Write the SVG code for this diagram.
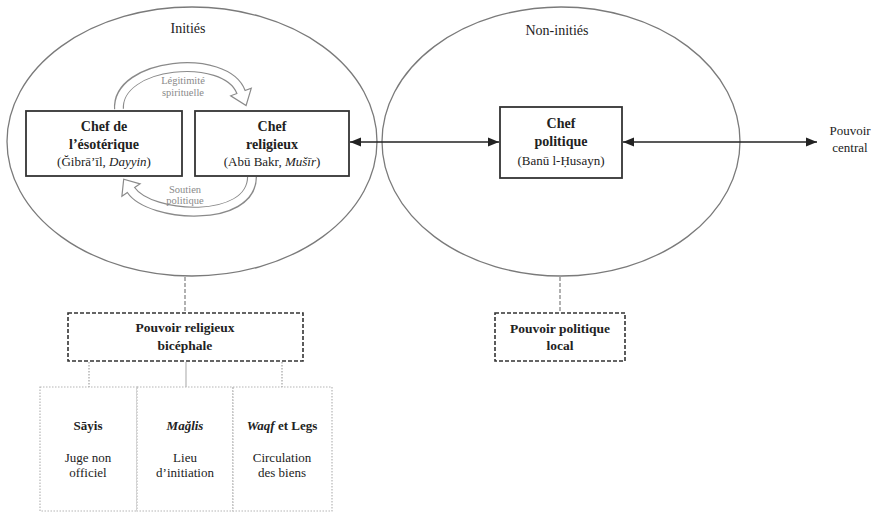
<svg xmlns="http://www.w3.org/2000/svg" width="876" height="513" viewBox="0 0 876 513">
<style>
text{font-family:"Liberation Serif","DejaVu Serif",serif;fill:#222;text-anchor:middle}
.t{font-size:14px;font-weight:bold}
.s{font-size:13px}
.p{font-size:13.5px;font-weight:bold}
.g{font-size:10.5px;fill:#8a8a8a}
.ell{fill:none;stroke:#7a7a7a;stroke-width:1.3}
.box{fill:#fff;stroke:#333;stroke-width:1.8}
.dbox{fill:#fff;stroke:#333;stroke-width:1.6;stroke-dasharray:4 2}
.obox{fill:#fff;stroke:#b5b5b5;stroke-width:1.2;stroke-dasharray:1.5 1.5}
.arr{stroke:#222;stroke-width:1.4;fill:none;marker-start:url(#ah);marker-end:url(#ah)}
.dash{stroke:#888;stroke-width:1.3;stroke-dasharray:4 2;fill:none}
.dot{stroke:#aaa;stroke-width:1.3;stroke-dasharray:1.5 1.5;fill:none}
.bo{fill:none;stroke:#8a8a8a;stroke-width:10}
.bi{fill:none;stroke:#fff;stroke-width:7.6}
.bh{fill:#fff;stroke:#8a8a8a;stroke-width:1.2;stroke-linejoin:miter}
</style>
<defs>
<marker id="ah" markerUnits="userSpaceOnUse" markerWidth="12" markerHeight="10" refX="11" refY="5" orient="auto-start-reverse">
<path d="M0,0.5 L11,5 L0,9.5 Z" fill="#222"/>
</marker>
</defs>
<g id="initiés">
<ellipse class="ell" cx="192" cy="141.5" rx="185" ry="134.5"/>
<text class="s" x="188" y="33" style="font-size:14px">Initiés</text>
</g>
<g id="non-initiés">
<ellipse class="ell" cx="561" cy="141.5" rx="179" ry="134.5"/>
<text class="s" x="557" y="35" style="font-size:14px">Non-initiés</text>
</g>
<g id="connectors">
<path class="arr" d="M350,142 H499"/>
<path class="arr" d="M623,142 H817"/>
<path class="dash" d="M185,277 V313"/>
<path class="dash" d="M560,277 V313"/>
<path class="dot" d="M89,362 V387"/>
<path class="dot" d="M186,362 V387" style="stroke-dasharray:none;stroke:#bbb"/>
<path class="dot" d="M282,362 V387"/>
<path class="bo" d="M119,109 C116,62 226,52 241,92"/>
<polygon class="bh" points="251.3,88.2 246.1,105.5 230.7,95.8"/>
<path class="bi" d="M119,110 C116,62 226,52 241,92 L241.7,93.9"/>
<path class="bo" d="M252,177 C252,224 150,218 131,190"/>
<polygon class="bh" points="140.1,183.8 123.7,179.2 121.9,196.2"/>
<path class="bi" d="M252,176 C252,224 150,218 131,190 L129.9,188.3"/>
<text class="g" x="183" y="84">Légitimité</text>
<text class="g" x="183" y="95.5">spirituelle</text>
<text class="g" x="185" y="192.5">Soutien</text>
<text class="g" x="185" y="204">politique</text>
</g>
<g id="chef-esoterique">
<rect class="box" x="26" y="111" width="156" height="65"/>
<text class="t" x="104" y="131">Chef de</text>
<text class="t" x="104" y="149">l’ésotérique</text>
<text class="s" x="104" y="166">(Ğibrā’īl, <tspan font-style="italic">Dayyin</tspan>)</text>
</g>
<g id="chef-religieux">
<rect class="box" x="195" y="111" width="154" height="65"/>
<text class="t" x="272" y="131">Chef</text>
<text class="t" x="272" y="149">religieux</text>
<text class="s" x="272" y="166">(Abū Bakr, <tspan font-style="italic">Mušīr</tspan>)</text>
</g>
<g id="chef-politique">
<rect class="box" x="500" y="107" width="122" height="71"/>
<text class="t" x="561" y="128">Chef</text>
<text class="t" x="561" y="146">politique</text>
<text class="s" x="561" y="165">(Banū l-Ḥusayn)</text>
</g>
<g id="pouvoir-central">
<text class="s" x="850" y="135">Pouvoir</text>
<text class="s" x="850" y="152">central</text>
</g>
<g id="pouvoir-religieux">
<rect class="dbox" x="68" y="313" width="235" height="48"/>
<text class="p" x="185" y="332">Pouvoir religieux</text>
<text class="p" x="185" y="350">bicéphale</text>
</g>
<g id="pouvoir-politique">
<rect class="dbox" x="495" y="313" width="130" height="48"/>
<text class="p" x="560" y="333">Pouvoir politique</text>
<text class="p" x="560" y="350">local</text>
</g>
<g id="sayis">
<rect class="obox" x="40" y="387" width="97" height="124"/>
<text class="s" x="88" y="430" font-weight="bold">Sāyis</text>
<text class="s" x="88" y="462">Juge non</text>
<text class="s" x="88" y="477">officiel</text>
</g>
<g id="maglis">
<rect class="obox" x="137" y="387" width="96" height="124"/>
<text class="s" x="185" y="430" font-weight="bold" font-style="italic">Mağlis</text>
<text class="s" x="185" y="462">Lieu</text>
<text class="s" x="185" y="477">d’initiation</text>
</g>
<g id="waqf">
<rect class="obox" x="233" y="387" width="99" height="124"/>
<text class="s" x="282" y="430" font-weight="bold"><tspan font-style="italic">Waqf</tspan> et Legs</text>
<text class="s" x="282" y="462">Circulation</text>
<text class="s" x="282" y="477">des biens</text>
</g>
</svg>
